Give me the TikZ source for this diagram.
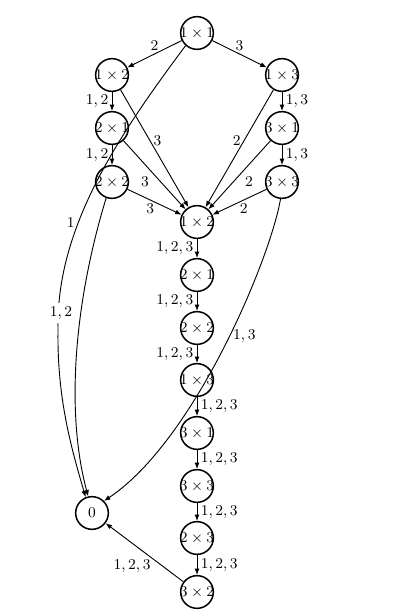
\documentclass[tikz,border=0pt]{standalone}
\usetikzlibrary{arrows.meta}
\newcommand\ctext[1]{\makebox[0pt]{$#1$}}
\begin{document}
\begin{tikzpicture}[x=0.6pt,y=-0.6pt,
  st/.style={circle,draw,line width=0.9pt,minimum size=19.6pt,inner sep=0pt,font=\small},
  edge/.style={line width=0.55pt,-{Latex[length=3.8pt,width=3pt]}},
  lab/.style={font=\small,inner sep=2pt}]
\useasboundingbox[fill=white] (0,0) rectangle (411,616);
% nodes
\node[st] (A) at (197,33) {\ctext{1\times 1}};
\node[st] (B) at (112,75) {\ctext{1\times 2}};
\node[st] (C) at (282,75) {\ctext{1\times 3}};
\node[st] (D) at (112,128) {\ctext{2\times 1}};
\node[st] (E) at (282,128) {\ctext{3\times 1}};
\node[st] (F) at (112,182) {\ctext{2\times 2}};
\node[st] (G) at (282,182) {\ctext{3\times 3}};
\node[st] (H) at (197,222) {\ctext{1\times 2}};
\node[st] (I) at (197,275) {\ctext{2\times 1}};
\node[st] (J) at (197,328) {\ctext{2\times 2}};
\node[st] (K) at (197,380) {\ctext{1\times 3}};
\node[st] (L) at (197,433) {\ctext{3\times 1}};
\node[st] (M) at (197,486) {\ctext{3\times 3}};
\node[st] (N) at (197,538) {\ctext{2\times 3}};
\node[st] (O) at (197,592) {\ctext{3\times 2}};
\node[st] (Z) at (92,513) {\ctext{0}};
\coordinate (bendA) at (58,330);
% top edges
\draw[edge] (A) -- node[lab,above]{$2$} (B);
\draw[edge] (A) -- node[lab,above]{$3$} (C);
\draw[edge] (B) -- node[lab,left]{$1,2$} (D);
\draw[edge] (D) -- node[lab,left]{$1,2$} (F);
\draw[edge] (C) -- node[lab,right]{$1,3$} (E);
\draw[edge] (E) -- node[lab,right]{$1,3$} (G);
% into centre
\draw[edge] (B) -- node[lab,pos=0.43,right]{$3$} (H);
\draw[edge] (D) -- node[lab,pos=0.47,below left]{$3$} (H);
\draw[edge] (F) -- node[lab,pos=0.42,below]{$3$} (H);
\draw[edge] (C) -- node[lab,pos=0.43,left]{$2$} (H);
\draw[edge] (E) -- node[lab,pos=0.47,below right]{$2$} (H);
\draw[edge] (G) -- node[lab,pos=0.42,below]{$2$} (H);
% chain
\draw[edge] (H) -- node[lab,left]{$1,2,3$} (I);
\draw[edge] (I) -- node[lab,left]{$1,2,3$} (J);
\draw[edge] (J) -- node[lab,left]{$1,2,3$} (K);
\draw[edge] (K) -- node[lab,right]{$1,2,3$} (L);
\draw[edge] (L) -- node[lab,right]{$1,2,3$} (M);
\draw[edge] (M) -- node[lab,right]{$1,2,3$} (N);
\draw[edge] (N) -- node[lab,right]{$1,2,3$} (O);
\draw[edge] (O) -- node[lab,pos=0.525,anchor=north,xshift=-6.3pt,yshift=-3.2pt]{$1,2,3$} (Z);
% long curves into 0
\draw[edge] (A.228) .. controls (115,140) and (56,230) .. (bendA) node[lab,pos=0.63,left]{$1$}
  .. controls (57,400) and (72,450) .. (Z.112);
\draw[edge] (F.250) .. controls (75,300) and (65,410) .. (Z.103)
  node[lab,pos=0.37,left,fill=white,xshift=-3pt]{$1,2$};
\draw[edge] (G.265) .. controls (270,260) and (194,441) .. (Z.45)
  node[lab,pos=0.46,right]{$1,3$};
\end{tikzpicture}
\end{document}
